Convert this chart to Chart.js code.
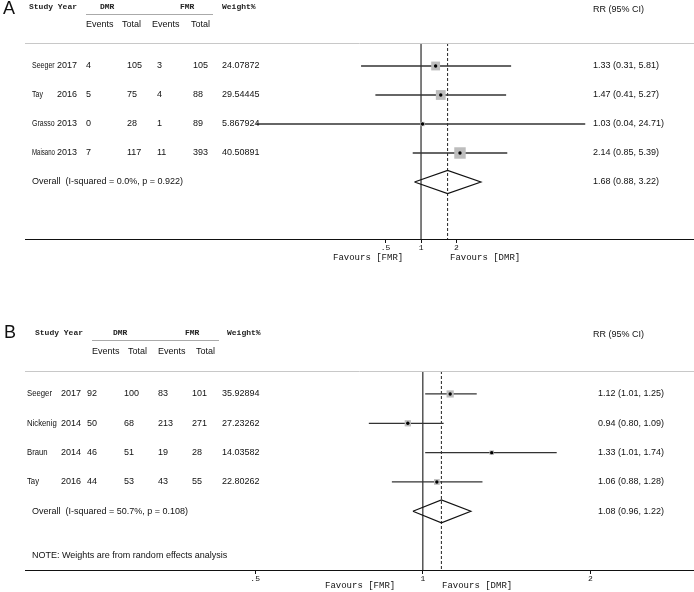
<!DOCTYPE html>
<html>
<head>
<meta charset="utf-8">
<script src="https://cdn.jsdelivr.net/npm/chart.js@4.4.0/dist/chart.umd.min.js"></script>
<style>
  html, body { margin: 0; padding: 0; background: #fff; }
  #wrap { position: relative; width: 694px; height: 592px; }
  canvas { position: absolute; left: 0; }
  #chartA { top: 0; }
  #chartB { top: 289px; }
</style>
</head>
<body>
<div id="wrap">
  <canvas id="chartA" width="694" height="280"></canvas>
  <canvas id="chartB" width="694" height="303"></canvas>
</div>
<script>
// panel A
const studiesA = ['Seeger', 'Tay', 'Grasso', 'Maisano'];
const yearsA = ['2017', '2016', '2013', '2013'];
const dmrEventsA = [4, 5, 0, 7];
const dmrTotalA = [105, 75, 28, 117];
const fmrEventsA = [3, 4, 1, 11];
const fmrTotalA = [105, 88, 89, 393];
const weightsA = ['24.07872', '29.54445', '5.867924', '40.50891'];
const rrA = [1.33, 1.47, 1.03, 2.14];
const lowA = [0.31, 0.41, 0.04, 0.85];
const highA = [5.81, 5.27, 24.71, 5.39];
const overallA = [1.68, 0.88, 3.22];
const overallTextA = 'Overall  (I-squared = 0.0%, p = 0.922)';
const ticksA = [0.5, 1, 2];
const tickLabelsA = ['.5', '1', '2'];

// panel B
const studiesB = ['Seeger', 'Nickenig', 'Braun', 'Tay'];
const yearsB = ['2017', '2014', '2014', '2016'];
const dmrEventsB = [92, 50, 46, 44];
const dmrTotalB = [100, 68, 51, 53];
const fmrEventsB = [83, 213, 19, 43];
const fmrTotalB = [101, 271, 28, 55];
const weightsB = ['35.92894', '27.23262', '14.03582', '22.80262'];
const rrB = [1.12, 0.94, 1.33, 1.06];
const lowB = [1.01, 0.80, 1.01, 0.88];
const highB = [1.25, 1.09, 1.74, 1.28];
const overallB = [1.08, 0.96, 1.22];
const overallTextB = 'Overall  (I-squared = 50.7%, p = 0.108)';
const noteB = 'NOTE: Weights are from random effects analysis';
const ticksB = [0.5, 1, 2];
const tickLabelsB = ['.5', '1', '2'];

const SANS = '"Liberation Sans", Arial, sans-serif';
const MONO = '"Liberation Mono", "DejaVu Sans Mono", monospace';

function fmtRR(r, lo, hi) {
  return r.toFixed(2) + ' (' + lo.toFixed(2) + ', ' + hi.toFixed(2) + ')';
}

// study names are set narrower than the numbers
function narrowText(ctx, s, x, y, k, maxW) {
  const w = ctx.measureText(s).width;
  const kk = Math.min(k, maxW / w);
  ctx.save();
  ctx.translate(x, y);
  ctx.scale(kk, 1);
  ctx.fillText(s, 0, 0);
  ctx.restore();
}

function makeForest(id, d, L) {
  const n = d.studies.length;
  const overallRow = n + 1;
  const datasets = [];

  // centre dots
  datasets.push({
    data: d.rr.map((v, i) => ({ x: v, y: i + 1 })),
    pointStyle: 'circle', pointRadius: 1.7, backgroundColor: '#000', borderWidth: 0
  });
  // weight boxes
  datasets.push({
    data: d.rr.map((v, i) => ({ x: v, y: i + 1 })),
    pointStyle: 'rect',
    pointRadius: d.weights.map(w => Math.sqrt(parseFloat(w)) * L.boxK / 1.414),
    backgroundColor: '#bdbdbd', borderWidth: 0
  });
  // confidence intervals
  d.rr.forEach((v, i) => {
    datasets.push({
      data: [{ x: d.low[i], y: i + 1 }, { x: d.high[i], y: i + 1 }],
      showLine: true, borderColor: '#333', borderWidth: 1.3, pointRadius: 0
    });
  });
  // overall diamond
  const [est, lo, hi] = d.overall;
  datasets.push({
    data: [
      { x: lo, y: overallRow }, { x: est, y: overallRow - L.diamondH },
      { x: hi, y: overallRow }, { x: est, y: overallRow + L.diamondH },
      { x: lo, y: overallRow }
    ],
    showLine: true, borderColor: '#111', borderWidth: 1.2, pointRadius: 0, tension: 0
  });
  // dashed overall line
  datasets.push({
    data: [{ x: est, y: L.yMin }, { x: est, y: L.yMax }],
    showLine: true, borderColor: '#222', borderWidth: 1, borderDash: [3, 2], pointRadius: 0
  });
  // null line
  datasets.push({
    data: [{ x: 1, y: L.yMin }, { x: 1, y: L.yMax }],
    showLine: true, borderColor: '#555', borderWidth: 1.5, pointRadius: 0
  });

  const tablePlugin = {
    id: 'table',
    afterDraw(chart) {
      const ctx = chart.ctx;
      const area = chart.chartArea;
      const ys = chart.scales.y;
      const c = L.cols;
      ctx.save();
      ctx.textBaseline = 'middle';
      ctx.fillStyle = '#111';

      // top separator
      ctx.strokeStyle = '#c8c8c8';
      ctx.lineWidth = 1;
      ctx.beginPath();
      ctx.moveTo(area.left, area.top + 0.5);
      ctx.lineTo(area.right, area.top + 0.5);
      ctx.stroke();

      // panel letter
      ctx.font = '18px ' + SANS;
      ctx.fillText(d.letter, L.letter[0], L.letter[1]);

      // headers
      ctx.font = 'bold 8px ' + MONO;
      ctx.fillStyle = '#222';
      ctx.fillText('Study Year', L.head.study, L.head.y1);
      ctx.fillText('DMR', L.head.dmr, L.head.y1);
      ctx.fillText('FMR', L.head.fmr, L.head.y1);
      ctx.fillText('Weight%', L.head.w, L.head.y1);
      ctx.fillStyle = '#111';
      ctx.strokeStyle = '#aaa';
      ctx.beginPath();
      ctx.moveTo(L.head.line[0], L.head.lineY + 0.5);
      ctx.lineTo(L.head.line[1], L.head.lineY + 0.5);
      ctx.stroke();
      ctx.font = '9px ' + SANS;
      ctx.fillText('Events', L.head.ev[0], L.head.y2);
      ctx.fillText('Total', L.head.ev[1], L.head.y2);
      ctx.fillText('Events', L.head.ev[2], L.head.y2);
      ctx.fillText('Total', L.head.ev[3], L.head.y2);
      ctx.fillText('RR (95% CI)', L.head.rr, L.head.rrY);

      // study rows
      d.studies.forEach((s, i) => {
        const y = ys.getPixelForValue(i + 1);
        ctx.font = '9px ' + SANS;
        narrowText(ctx, s, c.name, y, L.nameK, c.year - c.name - 2);
        ctx.fillText(d.years[i], c.year, y);
        ctx.fillText(String(d.dmrE[i]), c.dmrE, y);
        ctx.fillText(String(d.dmrT[i]), c.dmrT, y);
        ctx.fillText(String(d.fmrE[i]), c.fmrE, y);
        ctx.fillText(String(d.fmrT[i]), c.fmrT, y);
        ctx.fillText(d.weights[i], c.w, y);
        ctx.fillText(fmtRR(d.rr[i], d.low[i], d.high[i]), c.rr, y);
      });
      const oy = ys.getPixelForValue(overallRow);
      ctx.fillText(d.overallText, c.overall, oy);
      ctx.fillText(fmtRR(est, lo, hi), c.rr, oy);
      if (d.note) ctx.fillText(d.note, c.overall, ys.getPixelForValue(L.noteRow));

      // favours labels
      ctx.font = '9px ' + MONO;
      ctx.fillText('Favours [FMR]', L.fav[0], L.fav[2]);
      ctx.fillText('Favours [DMR]', L.fav[1], L.fav[2]);
      ctx.restore();
    }
  };

  return new Chart(document.getElementById(id), {
    type: 'scatter',
    data: { datasets },
    options: {
      responsive: false,
      animation: false,
      layout: { autoPadding: false, padding: { left: 25, right: 0, top: L.padTop, bottom: 0 } },
      plugins: { legend: { display: false }, tooltip: { enabled: false } },
      scales: {
        x: {
          type: 'logarithmic', min: L.xMin, max: L.xMax, bounds: 'data',
          afterBuildTicks: s => { s.ticks = d.ticks.map(v => ({ value: v })); },
          afterFit: s => { s.height = L.axisH; s.paddingLeft = 0; s.paddingRight = 0; },
          ticks: {
            autoSkip: false, maxRotation: 0, padding: 0, color: '#111',
            font: { family: MONO, size: 8 },
            callback: (v, i) => d.tickLabels[i]
          },
          grid: { drawOnChartArea: false, tickLength: 4, color: '#111' },
          border: { color: '#111', width: 1 }
        },
        y: { type: 'linear', reverse: true, min: L.yMin, max: L.yMax, display: false }
      }
    },
    plugins: [tablePlugin]
  });
}

makeForest('chartA', {
  letter: 'A', studies: studiesA, years: yearsA,
  dmrE: dmrEventsA, dmrT: dmrTotalA, fmrE: fmrEventsA, fmrT: fmrTotalA,
  weights: weightsA, rr: rrA, low: lowA, high: highA,
  overall: overallA, overallText: overallTextA,
  ticks: ticksA, tickLabels: tickLabelsA
}, {
  padTop: 43, axisH: 41, xMin: 0.000437, xMax: 206.8, yMin: 0.207, yMax: 6.966,
  boxK: 1.8, diamondH: 0.4, nameK: 0.78,
  letter: [3, 9],
  head: { study: 29, dmr: 100, fmr: 180, w: 222, y1: 7, line: [86, 213], lineY: 14,
          ev: [86, 122, 152, 191], y2: 25, rr: 593, rrY: 10 },
  cols: { name: 32, year: 57, dmrE: 86, dmrT: 127, fmrE: 157, fmrT: 193, w: 222, rr: 593, overall: 32 },
  fav: [333, 450, 258]
});

makeForest('chartB', {
  letter: 'B', studies: studiesB, years: yearsB,
  dmrE: dmrEventsB, dmrT: dmrTotalB, fmrE: fmrEventsB, fmrT: fmrTotalB,
  weights: weightsB, rr: rrB, low: lowB, high: highB,
  overall: overallB, overallText: overallTextB, note: noteB,
  ticks: ticksB, tickLabels: tickLabelsB
}, {
  padTop: 82, axisH: 22, xMin: 0.193, xMax: 3.07, yMin: 0.218, yMax: 7.0,
  boxK: 1.2, diamondH: 0.39, noteRow: 6.51, nameK: 0.86,
  letter: [4, 44],
  head: { study: 35, dmr: 113, fmr: 185, w: 227, y1: 44, line: [92, 219], lineY: 51,
          ev: [92, 128, 158, 196], y2: 63, rr: 593, rrY: 46 },
  cols: { name: 27, year: 61, dmrE: 87, dmrT: 124, fmrE: 158, fmrT: 192, w: 222, rr: 598, overall: 32 },
  fav: [325, 442, 297]
});
</script>
</body>
</html>
